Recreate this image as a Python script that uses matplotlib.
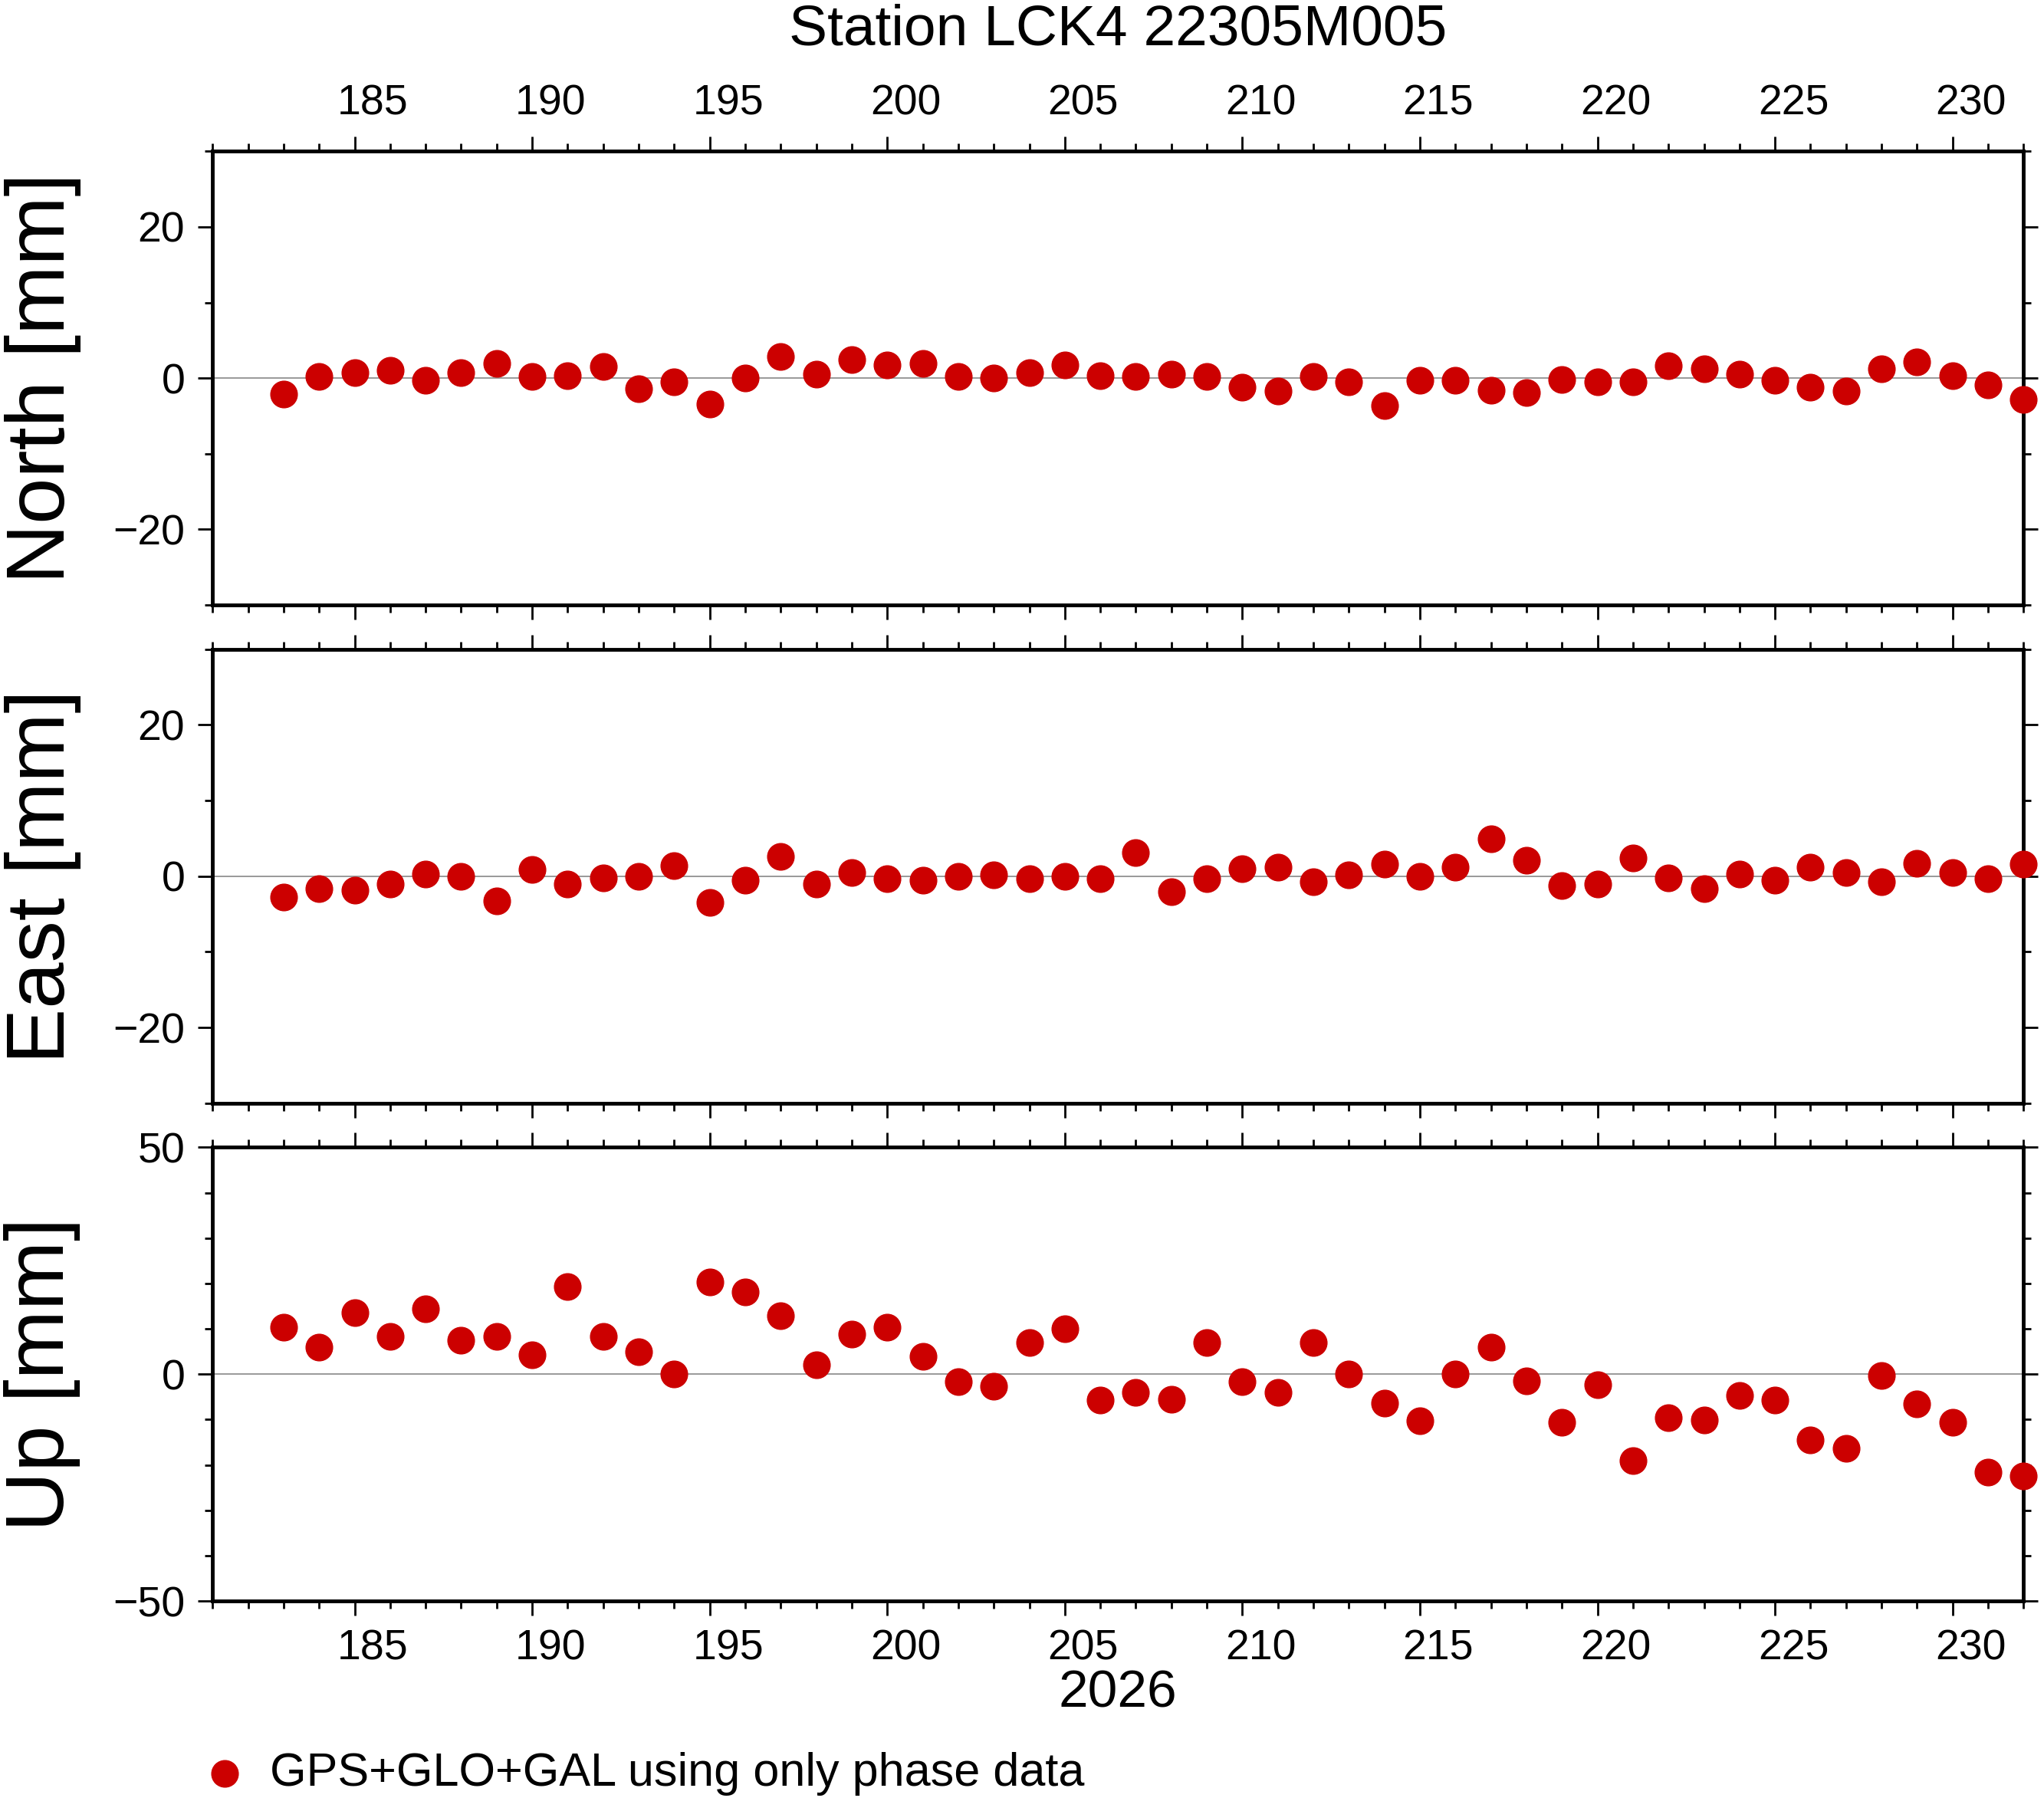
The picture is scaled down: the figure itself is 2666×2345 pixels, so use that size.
import matplotlib
matplotlib.use("Agg")
import matplotlib.pyplot as plt
import matplotlib.transforms as mtransforms
from matplotlib.lines import Line2D
from matplotlib.ticker import MultipleLocator

plt.rcParams['font.family'] = ['Liberation Sans', 'DejaVu Sans']

days = list(range(183, 233))
north = [-2.1, 0.2, 0.7, 1.0, -0.3, 0.7, 1.9, 0.2, 0.3, 1.5,
         -1.4, -0.5, -3.4, 0.0, 2.9, 0.5, 2.4, 1.7, 1.9, 0.2,
         0.0, 0.7, 1.7, 0.3, 0.2, 0.5, 0.2, -1.2, -1.7, 0.2,
         -0.5, -3.6, -0.3, -0.3, -1.6, -1.9, -0.2, -0.5, -0.5, 1.6,
         1.2, 0.5, -0.3, -1.2, -1.7, 1.2, 2.1, 0.3, -0.9, -2.8]
east = [-2.8, -1.7, -1.9, -1.0, 0.3, 0.0, -3.3, 0.9, -1.0, -0.2,
        0.0, 1.4, -3.5, -0.5, 2.6, -1.0, 0.5, -0.3, -0.5, 0.0,
        0.2, -0.3, 0.0, -0.3, 3.1, -2.1, -0.3, 1.0, 1.2, -0.7,
        0.2, 1.6, 0.0, 1.2, 4.9, 2.1, -1.2, -1.0, 2.4, -0.2,
        -1.6, 0.3, -0.5, 1.2, 0.5, -0.7, 1.7, 0.5, -0.3, 1.6]
up = [10.3, 6.0, 13.5, 8.3, 14.4, 7.5, 8.3, 4.3, 19.3, 8.3,
      4.9, 0.0, 20.4, 18.1, 12.9, 2.0, 8.9, 10.3, 4.0, -1.7,
      -2.6, 6.9, 10.1, -5.7, -4.0, -5.5, 6.9, -1.7, -4.0, 6.9,
      0.0, -6.3, -10.3, 0.0, 6.0, -1.4, -10.6, -2.3, -19.0, -9.5,
      -10.1, -4.6, -5.7, -14.4, -16.4, -0.3, -6.6, -10.6, -21.6, -22.4]

panels = [("North [mm]", north, 30, 20, 10),
          ("East [mm]", east, 30, 20, 10),
          ("Up [mm]", up, 50, 50, 10)]

RED = "#cc0000"
fig = plt.figure(figsize=(26.66, 23.45), dpi=100)
boxes = [(0.6635, 0.9159), (0.3865, 0.6389), (0.1095, 0.3619)]
shift = mtransforms.ScaledTranslation(0.24, 0, fig.dpi_scale_trans)

for i, ((label, vals, lim, major, minor), (y0, y1)) in enumerate(zip(panels, boxes)):
    ax = fig.add_axes([0.104, y0, 0.886, y1 - y0])
    ax.axhline(0, color='#888888', lw=1.2, zorder=1)
    ax.plot(days, vals, 'o', color=RED, ms=25, zorder=3, clip_on=False)
    ax.set_xlim(181, 232)
    ax.set_ylim(-lim, lim)
    ax.xaxis.set_major_locator(MultipleLocator(5))
    ax.xaxis.set_minor_locator(MultipleLocator(1))
    ax.yaxis.set_major_locator(MultipleLocator(major))
    ax.yaxis.set_minor_locator(MultipleLocator(minor))
    ax.tick_params(which='both', direction='out', top=True, bottom=True,
                   left=True, right=True, width=2, labelsize=40)
    ax.tick_params(which='major', length=14, pad=12)
    ax.tick_params(which='minor', length=7)
    ax.tick_params(axis='x', labeltop=(i == 0), labelbottom=(i == 2))
    for t in ax.get_xticklabels(which='major'):
        t.set_transform(t.get_transform() + shift)
    for s in ax.spines.values():
        s.set_linewidth(3.5)
    ax.set_ylabel(label, fontsize=78, labelpad=30)
    if i == 0:
        ax.set_title("Station LCK4 22305M005", fontsize=54, pad=100)
    if i == 2:
        ax.set_xlabel("2026", fontsize=50, labelpad=0)

fig.add_artist(Line2D([0.11], [0.0135], transform=fig.transFigure,
                      marker='o', color=RED, ms=25, ls=''))
fig.text(0.132, 0.0135, "GPS+GLO+GAL using only phase data", fontsize=44,
         va='center', ha='left')

fig.savefig("out.png", dpi=100)
